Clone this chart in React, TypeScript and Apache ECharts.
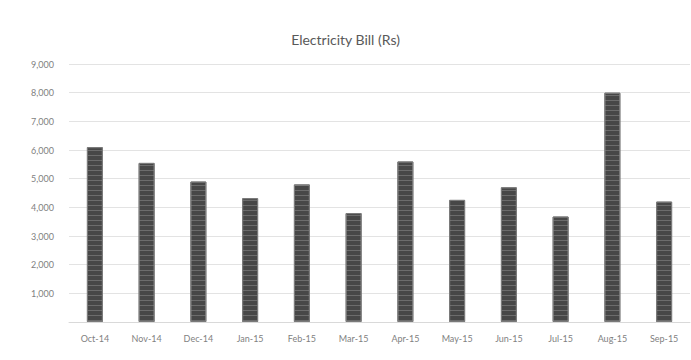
import React, { useEffect, useRef } from "react";
import * as echarts from "echarts";

// Monthly electricity bill, in rupees
const months = [
  "Oct-14", "Nov-14", "Dec-14", "Jan-15", "Feb-15", "Mar-15",
  "Apr-15", "May-15", "Jun-15", "Jul-15", "Aug-15", "Sep-15",
];
const billRs = [6100, 5550, 4900, 4320, 4800, 3800, 5600, 4260, 4700, 3680, 8000, 4200];

const yMin = 0;
const yMax = 9000;
const yStep = 1000;

export default function App() {
  const ref = useRef<HTMLDivElement>(null);

  useEffect(() => {
    if (!ref.current) return;
    const chart = echarts.init(ref.current, null, { renderer: "svg" });
    chart.setOption({
      animation: false,
      backgroundColor: "#ffffff",
      textStyle: { fontFamily: "Lato, 'Noto Sans', sans-serif" },
      title: {
        text: "Electricity Bill (Rs)",
        left: "center",
        top: 27,
        textStyle: { fontSize: 14, fontWeight: "normal", color: "#595959" },
      },
      grid: { left: 69, right: 1, top: 64, bottom: 38 },
      xAxis: {
        type: "category",
        data: months,
        axisLine: { show: true, lineStyle: { color: "#d9d9d9" } },
        axisTick: { show: false },
        axisLabel: { color: "#7f7f7f", fontSize: 9, margin: 12 },
      },
      yAxis: {
        type: "value",
        min: yMin,
        max: yMax,
        interval: yStep,
        axisLine: { show: false },
        axisTick: { show: false },
        splitLine: { lineStyle: { color: "#e3e3e3", width: 1 } },
        axisLabel: {
          color: "#7f7f7f",
          fontSize: 9,
          margin: 15,
          showMinLabel: false,
          formatter: (v: number) => (v === 0 ? "" : v.toLocaleString("en-US")),
        },
      },
      series: [
        {
          type: "bar",
          data: billRs,
          barWidth: 16,
          itemStyle: {
            color: "#474747",
            borderColor: "#7a7a7a",
            borderWidth: 1,
            decal: {
              symbol: "rect",
              symbolSize: 1,
              color: "rgba(255,255,255,0.2)",
              dashArrayX: [1, 0],
              dashArrayY: [1, 4],
              rotation: 0,
            },
          },
        },
      ],
    });
    return () => chart.dispose();
  }, []);

  return (
    <div
      ref={ref}
      style={{ position: "absolute", left: 0, top: 0, width: 691, height: 360 }}
    />
  );
}
